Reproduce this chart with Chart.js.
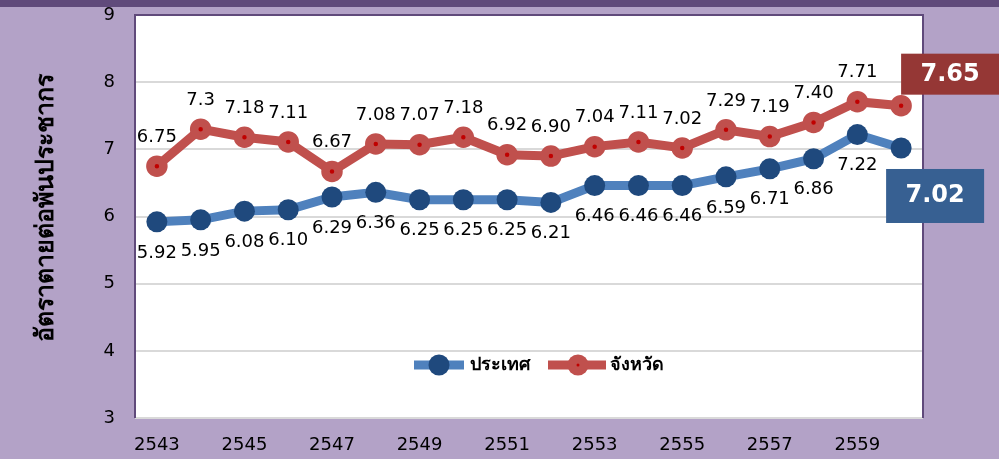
<!DOCTYPE html>
<html>
<head>
<meta charset="utf-8">
<script src="https://cdn.jsdelivr.net/npm/chart.js@4/dist/chart.umd.min.js"></script>
<style>
body { margin: 0; background: #b3a2c7; }
canvas { display: block; }
</style>
</head>
<body>
<canvas id="rate-chart" width="999" height="459"></canvas>
<script>
const years = ["2543", "2544", "2545", "2546", "2547", "2548", "2549", "2550", "2551",
    "2552", "2553", "2554", "2555", "2556", "2557", "2558", "2559", "2560"];

const countryRates = [5.92, 5.95, 6.08, 6.10, 6.29, 6.36, 6.25, 6.25, 6.25,
    6.21, 6.46, 6.46, 6.46, 6.59, 6.71, 6.86, 7.22, 7.02];
const provinceRates = [6.75, 7.3, 7.18, 7.11, 6.67, 7.08, 7.07, 7.18, 6.92,
    6.90, 7.04, 7.11, 7.02, 7.29, 7.19, 7.40, 7.71, 7.65];

const countryLabels = ["5.92", "5.95", "6.08", "6.10", "6.29", "6.36", "6.25", "6.25", "6.25",
    "6.21", "6.46", "6.46", "6.46", "6.59", "6.71", "6.86", "7.22", "7.02"];
const provinceLabels = ["6.75", "7.3", "7.18", "7.11", "6.67", "7.08", "7.07", "7.18", "6.92",
    "6.90", "7.04", "7.11", "7.02", "7.29", "7.19", "7.40", "7.71", "7.65"];

const seriesNames = ["ประเทศ", "จังหวัด"];
const yTitle = "อัตราตายต่อพันประชากร";
const yMin = 3;
const yMax = 9;

const fontName = "'DejaVu Sans', Tahoma, sans-serif";

// background, plot box, labels and legend
const decorPlugin = {
    id: "decor",
    beforeDraw(chart) {
        const ctx = chart.ctx;
        const a = chart.chartArea;
        ctx.save();
        ctx.fillStyle = "#b3a2c7";
        ctx.fillRect(0, 0, chart.width, chart.height);
        ctx.fillStyle = "#604a7b";
        ctx.fillRect(0, 0, chart.width, 7);
        ctx.fillStyle = "#ffffff";
        ctx.fillRect(a.left, a.top, a.right - a.left, a.bottom - a.top);

        ctx.translate(46, 208);
        ctx.rotate(-Math.PI / 2);
        ctx.fillStyle = "#000";
        ctx.font = "bold 25px " + fontName;
        ctx.textAlign = "center";
        ctx.textBaseline = "middle";
        ctx.fillText(yTitle, 0, 0);
        ctx.restore();
    },
    afterDraw(chart) {
        const ctx = chart.ctx;
        const a = chart.chartArea;
        ctx.save();

        ctx.strokeStyle = "#604a7b";
        ctx.lineWidth = 2;
        ctx.beginPath();
        ctx.moveTo(a.left, a.bottom);
        ctx.lineTo(a.left, a.top);
        ctx.lineTo(a.right, a.top);
        ctx.lineTo(a.right, a.bottom);
        ctx.stroke();

        // point labels
        ctx.font = "18px " + fontName;
        ctx.fillStyle = "#000";
        ctx.textAlign = "center";
        ctx.textBaseline = "middle";
        const sets = [[0, countryLabels, 31], [1, provinceLabels, -29]];
        sets.forEach(function (s) {
            const pts = chart.getDatasetMeta(s[0]).data;
            for (let i = 0; i < pts.length - 1; i++) {
                ctx.fillText(s[1][i], pts[i].x, pts[i].y + s[2]);
            }
        });

        // last values in boxes
        const last = years.length - 1;
        const pr = chart.getDatasetMeta(1).data[last];
        const co = chart.getDatasetMeta(0).data[last];
        ctx.font = "bold 24px " + fontName;
        ctx.fillStyle = "#953735";
        ctx.fillRect(pr.x, pr.y - 52, 98, 41);
        ctx.fillStyle = "#fff";
        ctx.fillText(provinceLabels[last], pr.x + 49, pr.y - 31);
        ctx.fillStyle = "#376092";
        ctx.fillRect(co.x - 15, co.y + 21, 98, 54);
        ctx.fillStyle = "#fff";
        ctx.fillText(countryLabels[last], co.x + 34, co.y + 48);

        // legend
        const ly = 365;
        ctx.lineWidth = 9;
        ctx.strokeStyle = "#4f81bd";
        ctx.beginPath();
        ctx.moveTo(414, ly);
        ctx.lineTo(464, ly);
        ctx.stroke();
        ctx.fillStyle = "#1f497d";
        ctx.beginPath();
        ctx.arc(439, ly, 10.5, 0, Math.PI * 2);
        ctx.fill();

        ctx.strokeStyle = "#c0504d";
        ctx.beginPath();
        ctx.moveTo(548, ly);
        ctx.lineTo(606, ly);
        ctx.stroke();
        ctx.fillStyle = "#c0504d";
        ctx.beginPath();
        ctx.arc(578, ly, 10.5, 0, Math.PI * 2);
        ctx.fill();
        ctx.fillStyle = "#c00000";
        ctx.beginPath();
        ctx.arc(578, ly, 1.5, 0, Math.PI * 2);
        ctx.fill();

        ctx.fillStyle = "#000";
        ctx.font = "bold 18px " + fontName;
        ctx.textAlign = "left";
        ctx.fillText(seriesNames[0], 470, ly);
        ctx.fillText(seriesNames[1], 610, ly);
        ctx.restore();
    }
};

const ctx = document.getElementById("rate-chart");

const chart = new Chart(ctx, {
    type: "line",
    data: {
        labels: years,
        datasets: [
            {
                label: seriesNames[0],
                data: countryRates,
                borderColor: "#4f81bd",
                borderWidth: 9,
                pointRadius: 10.5,
                pointBackgroundColor: "#1f497d",
                pointBorderWidth: 0,
                tension: 0
            },
            {
                label: seriesNames[1],
                data: provinceRates,
                borderColor: "#c0504d",
                borderWidth: 9,
                pointRadius: 6.5,
                pointBackgroundColor: "#c00000",
                pointBorderColor: "#c0504d",
                pointBorderWidth: 8.5,
                tension: 0
            }
        ]
    },
    options: {
        responsive: false,
        animation: false,
        layout: { padding: { top: 15, right: 76, bottom: 0, left: 0 } },
        plugins: {
            legend: { display: false },
            tooltip: { enabled: false }
        },
        scales: {
            x: {
                offset: true,
                grid: { display: false },
                border: { display: false },
                afterFit(scale) { scale.height = 41; },
                ticks: {
                    autoSkip: false,
                    maxRotation: 0,
                    padding: 9,
                    color: "#000",
                    font: { family: fontName, size: 18 },
                    callback: function (v, i) { return i % 2 === 0 ? years[i] : ""; }
                }
            },
            y: {
                min: yMin,
                max: yMax,
                afterFit(scale) {
                    scale.width = 135;
                    scale.paddingTop = 0;
                    scale.paddingBottom = 0;
                },
                grid: { color: "#d9d9d9", lineWidth: 2, drawTicks: false },
                border: { display: false },
                ticks: {
                    stepSize: 1,
                    padding: 20,
                    color: "#000",
                    font: { family: fontName, size: 18 }
                }
            }
        }
    },
    plugins: [decorPlugin]
});
</script>
</body>
</html>
